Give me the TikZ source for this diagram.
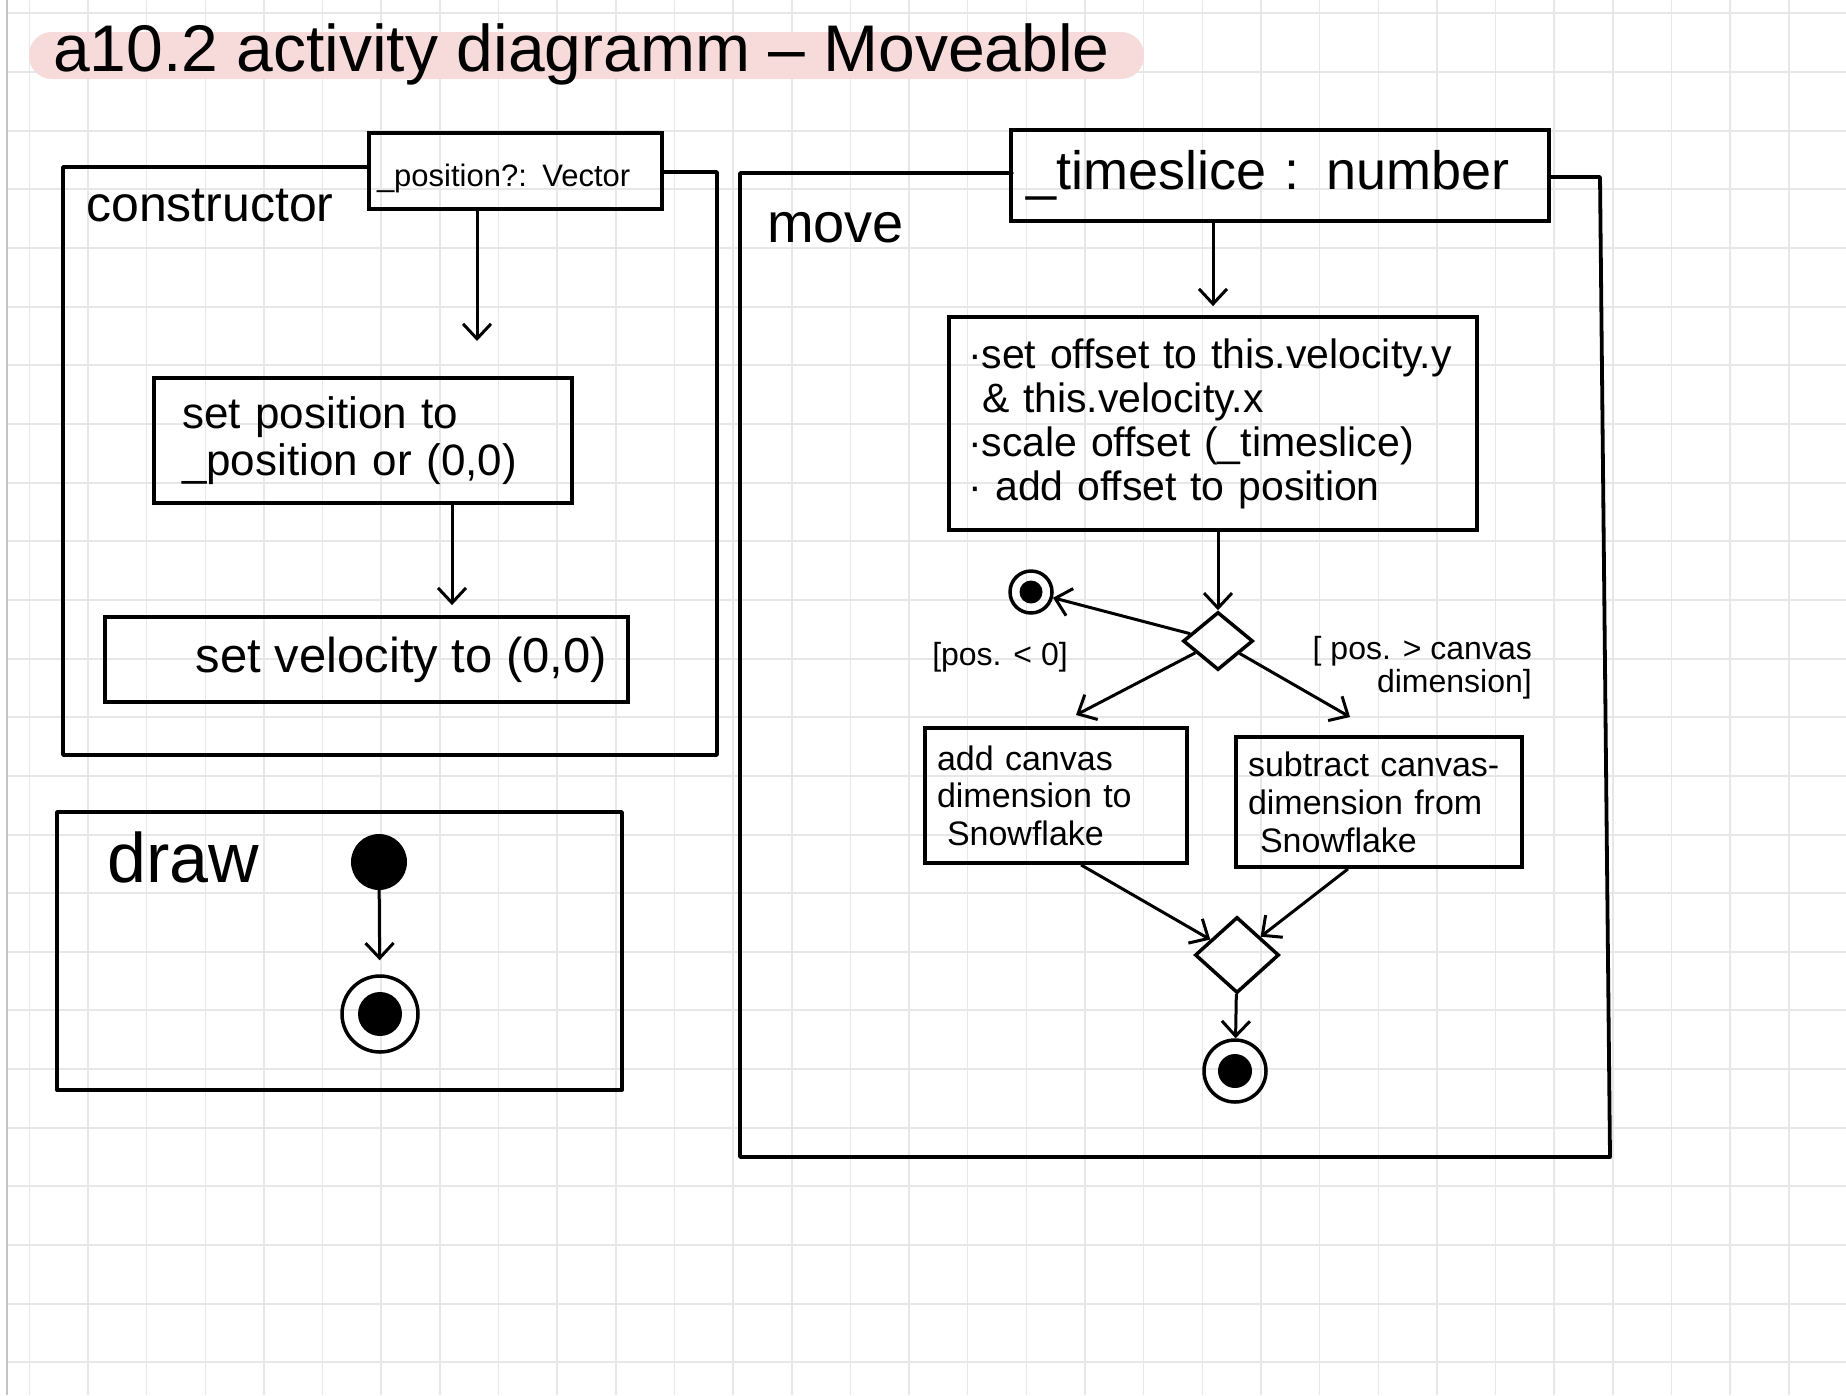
\documentclass[tikz,border=0pt]{standalone}
\usepackage{fontspec}
\setmainfont{Liberation Sans}
\usetikzlibrary{arrows.meta,shapes.geometric}
\definecolor{gridc}{RGB}{231,231,231}
\definecolor{hl}{RGB}{247,218,218}
\tikzset{
  gridline/.style={draw=gridc, line width=1.5pt},
  frameline/.style={line width=3.8pt, line join=round, line cap=round},
  actbox/.style={draw, rectangle, line width=3.8pt, inner ysep=0pt, align=left},
  arr/.style={line width=3pt, -{Straight Barb[length=15pt,width=28pt]}},
  startnode/.style={circle, fill=black, minimum size=56pt, inner sep=0pt},
  finalnode/.style={circle, draw, line width=3.5pt, inner sep=0pt,
     path picture={\fill[black] (path picture bounding box.center) circle[radius=#1];}},
  decnode/.style={diamond, draw, line width=3.5pt, inner sep=0pt},
  lbl/.style={inner sep=0pt, anchor=base west},
}
\begin{document}
\begin{tikzpicture}[x=1pt,y=-1pt]
% page and grid
\fill[white] (0,0) rectangle (1846,1395);
\useasboundingbox (0,0) rectangle (1846,1395);
\foreach \i in {0,...,30} \draw[gridline] ({29.3+58.65*\i},0) -- ({29.3+58.65*\i},1395);
\foreach \j in {0,...,23} \draw[gridline, line width=2pt] (7,{13.4+58.65*\j}) -- (1846,{13.4+58.65*\j});
\draw[draw=gridc!85!black, line width=2pt] (7,0) -- (7,1395);

% title
\fill[hl, rounded corners=23pt] (29,32) rectangle (1144,79);
\node[lbl, font=\fontsize{66}{72}\selectfont] (title) at (53,71) {a10.2 activity diagramm – Moveable};

% ---------- constructor ----------
\draw[frameline] (369,167) -- (63,167) -- (63,755) -- (717,755) -- (717,172) -- (662,172);
\node[lbl, font=\fontsize{50}{56}\selectfont] (lblcons) at (86,221) {constructor};
\node[actbox, minimum width=293pt, minimum height=76pt, inner xsep=8pt, text width=277pt,
      font=\fontsize{31}{34}\selectfont] (pparam) at (515.5,171)
      {\raisebox{-7pt}[\height][\depth]{\_position?: Vector}};
\node[actbox, minimum width=418pt, minimum height=125pt, inner xsep=28pt, text width=362pt,
      font=\fontsize{44}{47}\selectfont] (setpos) at (363,440.5) {set position to\\\_position or (0,0)};
\node[actbox, minimum width=523pt, minimum height=85pt,
      font=\fontsize{49}{52}\selectfont] (setvel) at (366.5,659.5) {\hspace*{70pt}set velocity to (0,0)};
\coordinate (a1end) at (477,341);
\coordinate (a2x) at (452,0);
\draw[arr] (pparam.south -| a1end) -- (a1end);
\draw[arr, shorten >=10pt] (setpos.south -| a2x) -- (setvel.north -| a2x);

% ---------- draw ----------
\draw[frameline] (57,812) rectangle (622,1090);
\node[lbl, font=\fontsize{70}{76}\selectfont] (lbldraw) at (107,882) {draw};
\node[startnode] (init) at (379,862) {};
\node[finalnode=22pt, minimum size=76pt] (fin1) at (380,1014) {};
\draw[arr, shorten >=14pt] (init) -- (fin1);

% ---------- move ----------
\draw[frameline] (1012,173) -- (740,173) -- (740,1157) -- (1610,1157) -- (1600,177) -- (1549,177);
\node[lbl, font=\fontsize{56}{60}\selectfont] (lblmove) at (767,242) {move};
\node[actbox, minimum width=538pt, minimum height=91pt, inner xsep=15pt, text width=508pt,
      font=\fontsize{54}{60}\selectfont] (tparam) at (1280,175.5) {\_timeslice : number};
\node[actbox, minimum width=528pt, minimum height=213pt, inner xsep=19pt, text width=490pt,
      font=\fontsize{41}{44}\selectfont] (actmove) at (1213,423.5)
      {·set offset to this.velocity.y\\\hspace*{14pt}\& this.velocity.x\\·scale offset (\_timeslice)\\· add offset to position};
\coordinate (a3x) at (1213,0);
\draw[arr, shorten >=9pt] (tparam.south -| a3x) -- (actmove.north -| a3x);

\node[decnode, minimum width=70pt, minimum height=58pt] (dec) at (1218,641) {};
\draw[arr] (actmove.south -| dec.north) -- (dec.north);
\node[finalnode=11.5pt, minimum size=42pt] (fin2) at (1031,592) {};
\draw[arr] (dec) -- (fin2);

\coordinate (lt) at (1076,715);
\coordinate (rt) at (1350,717);
\draw[arr] (dec) -- (lt);
\draw[arr] (dec) -- (rt);
\node[inner sep=0pt, font=\fontsize{32}{34}\selectfont] (g1) at (1000,657) {[pos. < 0]};
\node[inner sep=0pt, anchor=east, align=right, font=\fontsize{32}{33}\selectfont] (g2) at (1532,668)
      {[ pos. > canvas\\dimension]};

\node[actbox, minimum width=262pt, minimum height=135pt, inner xsep=12pt, text width=238pt,
      font=\fontsize{34}{37.5}\selectfont] (addbox) at (1056,795.5)
      {add canvas\\dimension to\\\hspace*{10pt}Snowflake};
\node[actbox, minimum width=286pt, minimum height=130pt, inner xsep=12pt, text width=262pt,
      font=\fontsize{34}{38}\selectfont] (subbox) at (1379,802)
      {subtract canvas-\\dimension from\\\hspace*{12pt}Snowflake};

\node[decnode, minimum width=84pt, minimum height=76pt] (merge) at (1237,955) {};
\coordinate (bx1) at (1081,0);
\coordinate (bx2) at (1348,0);
\draw[arr] (addbox.south -| bx1) -- (merge);
\draw[arr] (subbox.south -| bx2) -- (merge);
\node[finalnode=17pt, minimum size=62pt] (fin3) at (1235,1071) {};
\draw[arr] (merge) -- (fin3);
\end{tikzpicture}
\end{document}
